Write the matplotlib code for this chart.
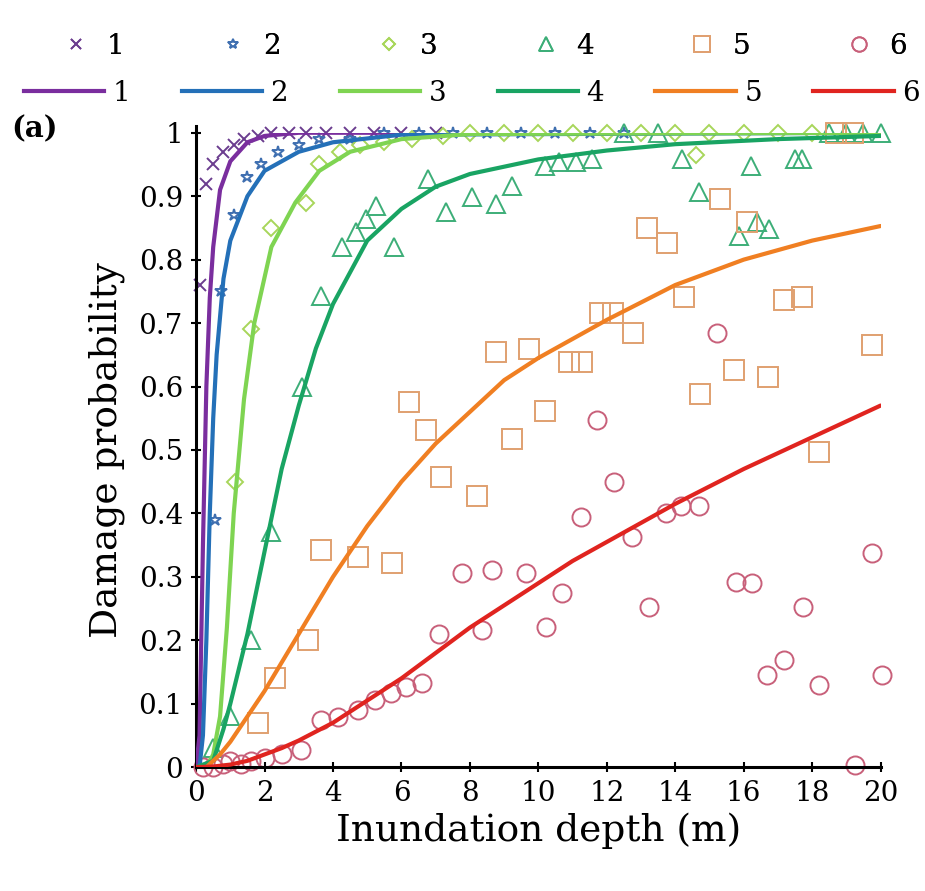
import matplotlib
matplotlib.use("Agg")
import matplotlib.pyplot as plt
from matplotlib.lines import Line2D

plt.rcParams.update({
    "font.family": "DejaVu Serif",
    "font.size": 19,
    "axes.linewidth": 2.2,
})

labels = ["1", "2", "3", "4", "5", "6"]

# observed points (depth m, probability)
obs1_x = [0.1, 0.3, 0.5, 0.8, 1.1, 1.4, 1.8, 2.2, 2.7, 3.2, 3.8, 4.5, 5.2, 6.0, 7.0]
obs1_y = [0.76, 0.92, 0.95, 0.97, 0.98, 0.99, 0.995, 1.0, 1.0, 1.0, 1.0, 1.0, 1.0, 1.0, 1.0]

obs2_x = [0.55, 0.73, 1.1, 1.5, 1.9, 2.4, 3.0, 3.6, 4.5, 5.5, 6.5, 7.5, 8.5, 9.5, 10.5, 11.5, 12.5]
obs2_y = [0.39, 0.75, 0.87, 0.93, 0.95, 0.97, 0.98, 0.99, 0.99, 1.0, 1.0, 1.0, 1.0, 1.0, 1.0, 1.0, 1.0]

obs3_x = [1.15, 1.6, 2.2, 3.2, 3.6, 4.2, 4.8, 5.5, 6.3, 7.2, 8.0, 9.0, 10.0, 11.0, 12.0, 13.0,
          14.0, 14.6, 15.0, 16.0, 17.0, 18.0]
obs3_y = [0.45, 0.69, 0.85, 0.89, 0.95, 0.97, 0.98, 0.985, 0.99, 0.995, 1.0, 1.0, 1.0, 1.0, 1.0, 1.0,
          1.0, 0.965, 1.0, 1.0, 1.0, 1.0]

obs4_x = [0.5, 1.0, 1.61, 2.2, 3.1, 3.66, 4.25, 4.66, 4.95, 5.27, 5.77, 6.79, 7.29, 8.05, 8.76,
          9.22, 10.2, 10.6, 11.1, 11.57, 12.5, 13.5, 14.2, 14.7, 15.87, 16.2, 16.4, 16.75, 17.5,
          17.7, 18.5, 19.0, 19.5, 20.0]
obs4_y = [0.03, 0.08, 0.2, 0.37, 0.6, 0.742, 0.82, 0.844, 0.864, 0.885, 0.82, 0.927, 0.875, 0.899,
          0.888, 0.916, 0.948, 0.954, 0.954, 0.959, 1.0, 1.0, 0.959, 0.907, 0.837, 0.948, 0.86,
          0.848, 0.959, 0.959, 1.0, 1.0, 1.0, 1.0]

obs5_x = [1.8, 2.3, 3.28, 3.66, 4.74, 5.71, 6.21, 6.73, 7.17, 8.2, 8.76, 9.22, 9.72, 10.2, 10.9,
          11.27, 11.8, 12.18, 12.77, 13.18, 13.76, 14.26, 14.73, 15.3, 15.72, 16.1, 16.7, 17.19,
          17.69, 18.2, 18.7, 19.2, 19.74]
obs5_y = [0.07, 0.14, 0.2, 0.343, 0.332, 0.322, 0.575, 0.532, 0.458, 0.427, 0.654, 0.517, 0.659,
          0.562, 0.638, 0.638, 0.716, 0.716, 0.684, 0.85, 0.826, 0.741, 0.588, 0.896, 0.626, 0.86,
          0.615, 0.736, 0.741, 0.496, 1.0, 1.0, 0.665]

obs6_x = [0.2, 0.5, 0.8, 1.0, 1.3, 1.6, 2.0, 2.5, 3.07, 3.66, 4.16, 4.74, 5.24, 5.7, 6.12, 6.59,
          7.09, 7.76, 8.35, 8.64, 9.63, 10.22, 10.69, 11.24, 11.71, 12.21, 12.74, 13.24, 13.73,
          14.17, 14.7, 15.23, 15.78, 16.25, 16.69, 17.19, 17.72, 18.21, 19.24, 19.74, 20.03]
obs6_y = [0.0, 0.0, 0.005, 0.01, 0.005, 0.01, 0.015, 0.02, 0.027, 0.074, 0.079, 0.09, 0.106, 0.117,
          0.126, 0.133, 0.21, 0.306, 0.216, 0.311, 0.306, 0.221, 0.275, 0.395, 0.548, 0.449, 0.363,
          0.253, 0.401, 0.411, 0.411, 0.684, 0.292, 0.291, 0.145, 0.169, 0.253, 0.13, 0.003,
          0.338, 0.145]

# fitted curves
fit1_x = [0, 0.1, 0.2, 0.3, 0.4, 0.5, 0.7, 1.0, 1.5, 2.0, 3.0, 5.0, 20.0]
fit1_y = [0, 0.05, 0.35, 0.6, 0.74, 0.82, 0.91, 0.955, 0.985, 0.995, 1.0, 1.0, 1.0]

fit2_x = [0, 0.1, 0.2, 0.3, 0.4, 0.5, 0.6, 0.8, 1.0, 1.5, 2.0, 3.0, 4.0, 6.0, 20.0]
fit2_y = [0, 0.0, 0.05, 0.2, 0.4, 0.55, 0.65, 0.77, 0.83, 0.9, 0.94, 0.97, 0.985, 0.997, 1.0]

fit3_x = [0, 0.3, 0.5, 0.7, 0.9, 1.1, 1.4, 1.7, 2.2, 2.9, 3.6, 4.5, 6.0, 8.0, 20.0]
fit3_y = [0, 0.0, 0.02, 0.08, 0.22, 0.4, 0.58, 0.7, 0.82, 0.89, 0.94, 0.97, 0.99, 0.998, 1.0]

fit4_x = [0, 0.5, 0.8, 1.0, 1.5, 2.0, 2.5, 3.0, 3.5, 4.0, 5.0, 6.0, 7.0, 8.0, 10.0, 12.0, 14.0,
          17.0, 20.0]
fit4_y = [0, 0.01, 0.06, 0.1, 0.21, 0.34, 0.47, 0.57, 0.66, 0.73, 0.83, 0.88, 0.915, 0.935, 0.958,
          0.972, 0.982, 0.99, 0.995]

fit5_x = [0, 0.3, 0.7, 1.0, 1.5, 2.0, 3.0, 4.0, 5.0, 6.0, 7.0, 8.0, 9.0, 10.0, 12.0, 14.0, 16.0,
          18.0, 20.0]
fit5_y = [0, 0.0, 0.02, 0.04, 0.08, 0.12, 0.21, 0.3, 0.38, 0.45, 0.51, 0.56, 0.61, 0.645, 0.705,
          0.76, 0.8, 0.83, 0.853]

fit6_x = [0, 0.5, 1.0, 1.5, 2.0, 2.5, 3.0, 4.0, 5.0, 6.0, 7.0, 8.0, 9.0, 10.0, 11.0, 12.0, 13.0,
          14.0, 16.0, 18.0, 20.0]
fit6_y = [0, 0.001, 0.004, 0.01, 0.02, 0.03, 0.042, 0.07, 0.105, 0.14, 0.18, 0.22, 0.255, 0.29,
          0.325, 0.355, 0.385, 0.415, 0.47, 0.52, 0.57]

obs = [(obs1_x, obs1_y), (obs2_x, obs2_y), (obs3_x, obs3_y),
       (obs4_x, obs4_y), (obs5_x, obs5_y), (obs6_x, obs6_y)]
fits = [(fit1_x, fit1_y), (fit2_x, fit2_y), (fit3_x, fit3_y),
        (fit4_x, fit4_y), (fit5_x, fit5_y), (fit6_x, fit6_y)]

markers = ["x", "*", "D", "^", "s", "o"]
msizes = [9, 9, 8, 13, 14, 13]
mcolors = ["#6b3d8f", "#3f6fb0", "#a8d65a", "#3dae78", "#e0a070", "#c8607a"]
lcolors = ["#7a2e9e", "#2470b8", "#7fd452", "#19a463", "#f07f22", "#e0241f"]

fig = plt.figure(figsize=(9.25, 8.91), dpi=100)
ax = fig.add_axes([0.212, 0.139, 0.740, 0.712])

for (xs, ys), m, ms, c in zip(obs, markers, msizes, mcolors):
    ax.plot(xs, ys, linestyle="none", marker=m, markersize=ms, markerfacecolor="none",
            markeredgecolor=c, markeredgewidth=1.4, clip_on=False, zorder=2)

for (xs, ys), c in zip(fits, lcolors):
    ax.plot(xs, ys, color=c, linewidth=3.0, solid_capstyle="round", zorder=3)

ax.set_xlim(0, 20)
ax.set_ylim(0, 1.0)
ax.set_xticks(range(0, 21, 2))
ax.set_yticks([i / 10 for i in range(11)])
ax.set_yticklabels(["0", "0.1", "0.2", "0.3", "0.4", "0.5", "0.6", "0.7", "0.8", "0.9", "1"])
ax.tick_params(direction="inout", length=7, width=1.5, labelsize=20, pad=6)
for s in ["top", "right"]:
    ax.spines[s].set_visible(False)
ax.spines["left"].set_bounds(0, 1.01)
ax.set_xlabel("Inundation depth (m)", fontsize=27, labelpad=4)
ax.set_ylabel("Damage probability", fontsize=27, labelpad=10)

fig.text(0.012, 0.855, "(a)", fontsize=21, fontweight="bold", ha="left", va="center")

mk_handles = [Line2D([], [], linestyle="none", marker=m, markersize=ms * 0.8, markerfacecolor="none",
                     markeredgecolor=c, markeredgewidth=1.3)
              for m, ms, c in zip(markers, msizes, mcolors)]
ln_handles = [Line2D([], [], color=c, linewidth=3.0) for c in lcolors]

leg1 = fig.legend(mk_handles, labels, ncol=6, loc="center", bbox_to_anchor=(0.524, 0.948),
                  frameon=False, fontsize=20, handlelength=1.0, handletextpad=0.6,
                  columnspacing=3.4)
fig.legend(ln_handles, labels, ncol=6, loc="center", bbox_to_anchor=(0.51, 0.895),
           frameon=False, fontsize=20, handlelength=2.9, handletextpad=0.3,
           columnspacing=1.85)
fig.add_artist(leg1)

fig.savefig("out.png", dpi=100)
